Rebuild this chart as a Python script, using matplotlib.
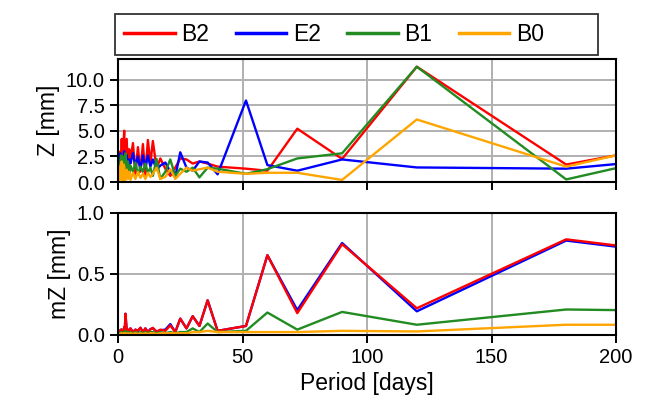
import matplotlib as mpl
mpl.use('Agg')
import matplotlib.pyplot as plt
from matplotlib.patches import Rectangle

plt.rcParams['font.family'] = ['Liberation Sans', 'DejaVu Sans']

# periods in days
periods = [0.5, 0.75, 1, 1.25, 1.5, 1.75, 2, 2.25, 2.5, 2.75, 3, 3.5, 4, 4.5,
           5, 6, 7, 8, 9, 10, 11, 12, 13, 14, 15.5, 17, 19, 21, 23, 25, 27.5,
           30, 32.7, 36, 40, 51.4, 60, 72, 90, 120, 180, 200]

# amplitude Z [mm]
z_b2 = [2.5, 1.0, 3.0, 0.8, 4.2, 0.6, 1.5, 4.0, 5.0, 0.5, 1.2, 4.2, 1.0, 3.2,
        2.0, 3.8, 0.8, 3.4, 1.0, 3.7, 0.7, 4.1, 1.8, 4.0, 1.3, 2.3, 1.3, 0.6,
        1.4, 2.3, 2.2, 1.8, 2.0, 1.8, 1.5, 1.3, 1.1, 5.2, 2.25, 11.25, 1.7, 2.6]
z_e2 = [2.0, 2.6, 2.8, 1.2, 2.5, 1.6, 2.0, 2.4, 3.0, 1.0, 1.8, 2.6, 1.5, 2.2,
        1.8, 2.8, 1.5, 2.5, 1.2, 2.6, 1.4, 2.6, 1.5, 2.2, 1.2, 1.6, 1.9, 1.0,
        0.5, 2.9, 1.4, 1.1, 2.0, 1.9, 0.75, 7.95, 1.65, 1.1, 2.2, 1.42, 1.3, 1.75]
z_b1 = [1.8, 0.8, 2.2, 2.6, 1.5, 0.6, 2.5, 0.9, 1.2, 2.3, 2.8, 1.0, 2.0, 0.8,
        1.6, 1.0, 1.9, 0.7, 1.5, 1.0, 1.8, 0.9, 1.4, 0.6, 2.25, 0.3, 1.0, 2.2,
        0.6, 1.3, 1.0, 1.4, 0.45, 1.4, 1.3, 0.8, 1.25, 2.3, 2.8, 11.25, 0.25, 1.35]
z_b0 = [1.5, 0.2, 0.5, 1.8, 2.0, 0.1, 0.3, 1.7, 1.5, 0.1, 0.2, 1.2, 0.3, 1.0,
        0.2, 0.9, 0.3, 1.0, 0.4, 0.8, 0.3, 0.9, 0.5, 0.8, 1.4, 0.3, 0.5, 1.25,
        0.3, 0.8, 1.4, 1.1, 1.25, 1.4, 1.0, 0.8, 0.9, 0.9, 0.2, 6.1, 1.5, 2.6]

# uncertainty mZ [mm]
mz_b2 = [0.03, 0.01, 0.02, 0.04, 0.04, 0.01, 0.03, 0.02, 0.06, 0.04, 0.17,
         0.03, 0.04, 0.03, 0.05, 0.02, 0.04, 0.03, 0.055, 0.02, 0.05, 0.02,
         0.04, 0.055, 0.02, 0.04, 0.03, 0.075, 0.02, 0.13, 0.05, 0.15, 0.07,
         0.28, 0.03, 0.07, 0.65, 0.175, 0.74, 0.215, 0.78, 0.73]
mz_e2 = [0.03, 0.01, 0.02, 0.04, 0.04, 0.01, 0.03, 0.02, 0.06, 0.04, 0.17,
         0.03, 0.04, 0.03, 0.05, 0.02, 0.04, 0.03, 0.055, 0.02, 0.05, 0.02,
         0.045, 0.05, 0.025, 0.035, 0.04, 0.085, 0.02, 0.13, 0.05, 0.15, 0.07,
         0.28, 0.03, 0.07, 0.65, 0.2, 0.75, 0.19, 0.77, 0.72]
mz_b1 = [0.01, 0.005, 0.01, 0.02, 0.02, 0.005, 0.01, 0.01, 0.02, 0.01, 0.03,
         0.01, 0.02, 0.01, 0.02, 0.01, 0.02, 0.01, 0.02, 0.01, 0.02, 0.01,
         0.02, 0.02, 0.01, 0.02, 0.01, 0.02, 0.01, 0.02, 0.02, 0.05, 0.02,
         0.09, 0.02, 0.03, 0.18, 0.04, 0.185, 0.08, 0.205, 0.2]
mz_b0 = [0.005, 0.005, 0.005, 0.01, 0.01, 0.005, 0.005, 0.005, 0.01, 0.005,
         0.01, 0.005, 0.01, 0.005, 0.01, 0.005, 0.01, 0.005, 0.01, 0.005, 0.01,
         0.005, 0.01, 0.01, 0.005, 0.01, 0.01, 0.01, 0.01, 0.01, 0.01, 0.02,
         0.02, 0.03, 0.02, 0.02, 0.02, 0.02, 0.03, 0.025, 0.08, 0.08]

labels = ["B2", "E2", "B1", "B0"]
colors = {"B2": "red", "E2": "blue", "B1": "forestgreen", "B0": "orange"}

LBL = 16.5
TCK = 14.5
LW = 1.7

fig = plt.figure(figsize=(6.46, 4.08), dpi=100)
ax1 = fig.add_axes([118/646, 1-182/408, 498/646, 123/408])
ax2 = fig.add_axes([118/646, 1-334.5/408, 498/646, 122/408], sharex=ax1)

top = {"B2": z_b2, "E2": z_e2, "B1": z_b1, "B0": z_b0}
bottom = {"B2": mz_b2, "E2": mz_e2, "B1": mz_b1, "B0": mz_b0}

for name in labels:
    ax1.plot(periods, top[name], color=colors[name], lw=LW, label=name)
for name in ["E2", "B2", "B1", "B0"]:
    ax2.plot(periods, bottom[name], color=colors[name], lw=LW)

for ax in (ax1, ax2):
    ax.grid(True, color='#b0b0b0', lw=1.4)
    ax.set_axisbelow(True)
    for s in ax.spines.values():
        s.set_linewidth(1.5)
        s.set_color('black')
    ax.tick_params(direction='out', length=6, width=1.4, labelsize=TCK)
    ax.set_xlim(0, 200)
    ax.set_xticks([0, 50, 100, 150, 200])

ax1.set_ylim(0, 12)
ax1.set_yticks([0, 2.5, 5, 7.5, 10])
ax1.set_yticklabels(["0.0", "2.5", "5.0", "7.5", "10.0"])
ax1.tick_params(labelbottom=False)
ax1.set_ylabel("Z [mm]", fontsize=LBL)

ax2.set_ylim(0, 1)
ax2.set_yticks([0, 0.5, 1])
ax2.set_yticklabels(["0.0", "0.5", "1.0"])
ax2.set_ylabel("mZ [mm]", fontsize=LBL)
ax2.set_xlabel("Period [days]", fontsize=LBL)

fig.align_ylabels([ax1, ax2])

leg = fig.legend(loc='upper left', bbox_to_anchor=(115/646, 1-14/408), ncol=4,
                 fontsize=LBL, handlelength=2.2, handletextpad=0.3,
                 columnspacing=1.15, borderaxespad=0, frameon=False)
for h in leg.get_lines():
    h.set_linewidth(2.5)
# legend box spans a bit wider than its entries
fig.patches.append(Rectangle((115/646, 1-55/408), 483/646, 41/408,
                             transform=fig.transFigure, fill=False,
                             edgecolor='#333333', lw=1.3))

fig.savefig("out.png", dpi=100)
